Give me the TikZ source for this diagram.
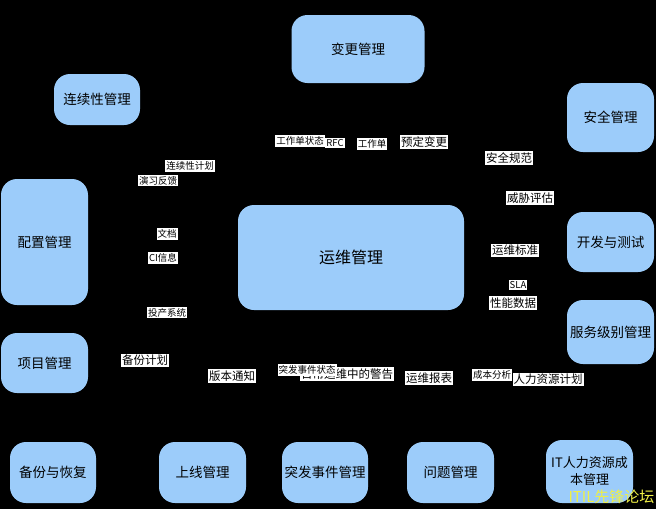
\documentclass[tikz,border=0pt]{standalone}
\usepackage{fontspec}
\setmainfont{Noto Sans CJK SC}
\definecolor{boxblue}{RGB}{156,204,250}
\definecolor{wmyellow}{RGB}{240,240,70}
\begin{document}
\begin{tikzpicture}[x=1pt,y=-1pt,
  box/.style={fill=boxblue, rounded corners=16pt, inner sep=0pt, align=center,
    font=\fontsize{13.5}{17}\selectfont},
  lab/.style={fill=white, text=black, inner xsep=1pt, inner ysep=1.5pt,
    font=\fontsize{11.5}{13}\selectfont},
  slab/.style={fill=white, text=black, inner xsep=1pt, inner ysep=1.5pt,
    font=\fontsize{9.5}{11}\selectfont}]
\fill[black] (0,0) rectangle (656,509);
\useasboundingbox (0,0) rectangle (656,509);
% boxes
\node[box, minimum width=133pt, minimum height=68pt] (change) at (358,49) {变更管理};
\node[box, minimum width=86pt, minimum height=51pt] (cont) at (97,99.5) {连续性管理};
\node[box, minimum width=87pt, minimum height=69pt] (sec) at (610.5,117.5) {安全管理};
\node[box, minimum width=87pt, minimum height=126pt] (cfg) at (44.5,242) {配置管理};
\node[box, minimum width=226pt, minimum height=105pt, font=\fontsize{16}{19}\selectfont] (ops) at (351,257.5) {运维管理};
\node[box, minimum width=87pt, minimum height=60pt] (dev) at (610.5,242) {开发与测试};
\node[box, minimum width=87pt, minimum height=64pt] (slm) at (610.5,332) {服务级别管理};
\node[box, minimum width=87pt, minimum height=60pt] (proj) at (44.5,363) {项目管理};
\node[box, minimum width=86pt, minimum height=61pt] (backup) at (53,472.5) {备份与恢复};
\node[box, minimum width=87pt, minimum height=61pt] (release) at (202.5,472.5) {上线管理};
\node[box, minimum width=86pt, minimum height=61pt] (incident) at (325,472.5) {突发事件管理};
\node[box, minimum width=87pt, minimum height=61pt] (problem) at (450.5,472.5) {问题管理};
\node[box, minimum width=87pt, minimum height=63pt, font=\fontsize{13}{17}\selectfont] (itcost) at (589.5,471.5) {IT人力资源成\\本管理};
% labels
\node[slab] (l1) at (300,141) {工作单状态};
\node[slab] (l2) at (335,143) {RFC};
\node[slab] (l3) at (372,144) {工作单};
\node[lab] (l4) at (424,142) {预定变更};
\node[lab] (l5) at (509,158) {安全规范};
\node[slab] (l6) at (190,166) {连续性计划};
\node[slab] (l7) at (158,180.5) {演习反馈};
\node[lab] (l8) at (530,198) {威胁评估};
\node[slab] (l9) at (167,234) {文档};
\node[slab] (l10) at (163,258) {CI信息};
\node[lab] (l11) at (515,250.5) {运维标准};
\node[slab] (l12) at (518,285) {SLA};
\node[lab] (l13) at (513,303) {性能数据};
\node[slab] (l14) at (167,312.5) {投产系统};
\node[lab] (l15) at (145,360.5) {备份计划};
\node[lab] (l16) at (232,376) {版本通知};
\node[lab] (l17) at (347,374) {日常运维中的警告};
\node[slab] (l18) at (307,370) {突发事件状态};
\node[lab] (l19) at (429,378) {运维报表};
\node[slab] (l20) at (492,375) {成本分析};
\node[lab] (l21) at (548,379.5) {人力资源计划};
% watermark
\node[text=wmyellow, inner sep=0pt, font=\fontsize{15}{17}\selectfont] (wm) at (611.5,496.5) {ITIL先锋论坛};
\end{tikzpicture}
\end{document}
